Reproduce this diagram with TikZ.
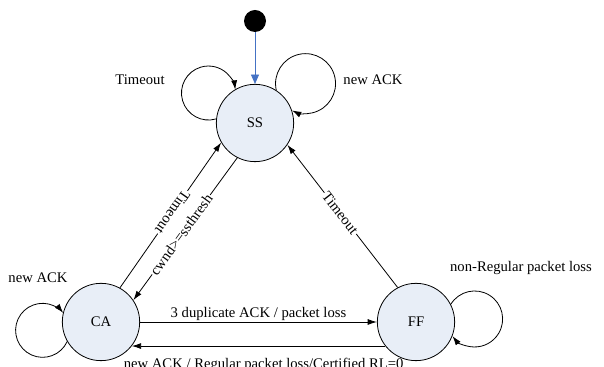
\documentclass[tikz,border=0pt]{standalone}
\usepackage{fontspec}
\setmainfont{Liberation Serif}
\usetikzlibrary{arrows.meta}
\definecolor{statefill}{RGB}{232,238,247}
\definecolor{initblue}{RGB}{68,114,196}

\begin{document}
\begin{tikzpicture}[x=0.75pt,y=0.75pt,line width=0.6pt,
  state/.style={circle,draw,fill=statefill,minimum size=58pt,inner sep=0pt,font=\fontsize{11}{13}\selectfont},
  trans/.style={-{Latex[length=7pt,width=4.5pt]}},
  lbl/.style={font=\fontsize{11}{13}\selectfont,inner sep=1pt},
  onlbl/.style={lbl,fill=white}]
\useasboundingbox (0,0) rectangle (604,367);
%States
\node [state] (SS) at (255,244) {SS};
\node [state] (CA) at (101,45) {CA};
\node [state] (FF) at (416,45) {FF};
%Initial
\node [circle,fill=black,minimum size=16.5pt,inner sep=0pt] (init) at (255,346) {};
\draw [-{Triangle[length=7pt,width=6pt]},color=initblue] (init) -- (SS);

%Self loops
\draw [trans] (SS.174) arc [start angle=-73.5,end angle=-353,radius=27];
\draw [trans] (SS.57) arc [start angle=192.7,end angle=-116.8,radius=30];
\draw [trans] (CA.210) arc [start angle=-24.5,end angle=-320,radius=27];
\draw [trans] (FF.27.3) arc [start angle=148.3,end angle=-142.4,radius=28];

%Transitions
\draw [trans] (CA.61) -- node [onlbl,pos=0.52,rotate=235] {Timeout} (SS.210);
\draw [trans] (SS.243) -- node [onlbl,pos=0.54,rotate=54] {cwnd>=ssthresh} (CA.34);
\draw [trans] (FF.118) -- node [onlbl,pos=0.52,rotate=-52] {Timeout} (SS.326);
\draw [trans] (CA.0) -- node [lbl,above] {3 duplicate ACK / packet loss} (FF.180);
\draw [trans] (FF.218) -- node [lbl,below=8pt,pos=0.48] {new ACK / Regular packet loss/Certified RL=0} (CA.322);

% Text Node
\node [lbl] (tSS) at (140,287) {Timeout};
% Text Node
\node [lbl] (aSS) at (373,287) {new ACK};
% Text Node
\node [lbl] (aCA) at (38,89) {new ACK};
% Text Node
\node [lbl] (rFF) at (521,99) {non-Regular packet loss};

\end{tikzpicture}
\end{document}
